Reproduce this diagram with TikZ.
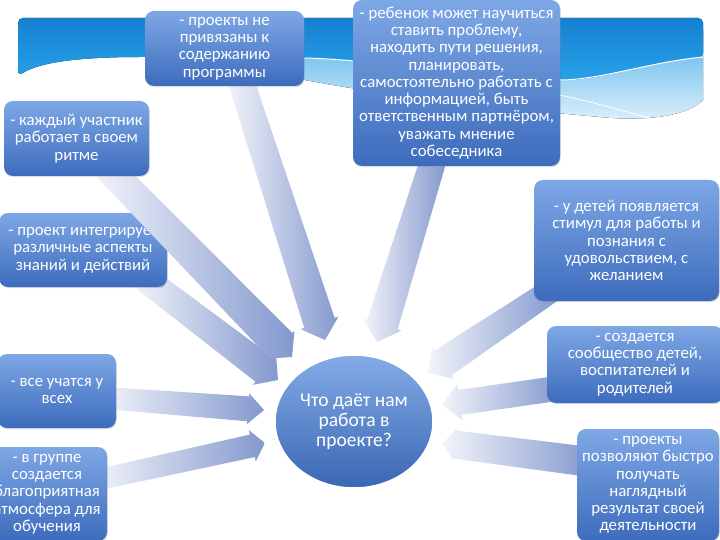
\documentclass[tikz,border=0pt]{standalone}
\usepackage{fontspec}
\setmainfont{Carlito}
\usetikzlibrary{shadows,shapes.geometric}
\definecolor{boxTop}{HTML}{7EA7E5}
\definecolor{boxBot}{HTML}{3D6CBD}
\definecolor{arrTail}{HTML}{F2F4FA}
\definecolor{arrHead}{HTML}{8398CE}
\definecolor{skyDark}{HTML}{1680D2}
\definecolor{skyDark2}{HTML}{27A2E8}
\definecolor{skyLight}{HTML}{58B3EB}
\definecolor{skyPale}{HTML}{DCF0FB}
\tikzset{
  box/.style={rounded corners=9pt, top color=boxTop, bottom color=boxBot, text=white,
    align=center, inner sep=0pt,
    drop shadow={opacity=0.25, shadow xshift=0.8pt, shadow yshift=-1.2pt}},
  arrowfill/.style={left color=arrTail, right color=arrHead},
  centre/.style={ellipse, top color=boxTop!95!white, bottom color=boxBot!95!black, draw=white,
    line width=1.5pt, text=white, align=center, inner sep=0pt,
    font=\fontsize{19.5}{20}\selectfont}
}
\lineskiplimit=-20pt
% block arrow: tail coord, tip coord, tail half width, base half width, head half width, head length
\newcommand\bArrow[6]{%
  \pgfpointdiff{\pgfpointanchor{#1}{center}}{\pgfpointanchor{#2}{center}}%
  \pgfgetlastxy{\bAx}{\bAy}%
  \pgfmathsetmacro\bAang{atan2(\bAy,\bAx)}%
  \pgfmathsetmacro\bAlen{veclen(\bAx,\bAy)}%
  \pgfmathsetmacro\bAbase{\bAlen-#6}%
  \begin{scope}[shift={(#1)}, rotate=\bAang, x=1pt, y=1pt]
    \shade[arrowfill] (0,#3) -- (\bAbase,#4) -- (\bAbase,#5) -- (\bAlen,0)
      -- (\bAbase,-#5) -- (\bAbase,-#4) -- (0,-#3) -- cycle;
  \end{scope}}
\begin{document}
\begin{tikzpicture}[x=1pt, y=-1pt, font=\fontsize{16.8}{17.3}\selectfont]
\useasboundingbox (0,0) rectangle (720,540);
\clip (0,0) rectangle (720,540);
\fill[white] (0,0) rectangle (720,540);
% sky banner
\fill[top color=skyLight, bottom color=skyPale] (200,50) -- (703,30) -- (703,100)
  .. controls (685,118) and (640,121) .. (600,117)
  .. controls (480,106) and (330,92) .. (200,56) -- cycle;
\fill[top color=skyDark, bottom color=skyDark2, rounded corners=5pt]
  (18,76) -- (18,18) -- (703,18) -- (703,57)
  .. controls (650,62) and (600,80) .. (560,80)
  .. controls (470,80) and (390,60) .. (304,58)
  .. controls (220,56) and (160,57) .. (145,57)
  .. controls (80,57) and (40,62) .. (18,76) -- cycle;
\draw[white, line width=1pt] (703,57) .. controls (650,62) and (600,80) .. (560,80)
  .. controls (470,80) and (390,60) .. (304,58)
  .. controls (220,56) and (160,57) .. (145,57);
\draw[white, line width=0.8pt] (560,95) .. controls (600,104) and (620,110) .. (650,118);

% arrow end points
\coordinate (t1) at (240,78);  \coordinate (h1) at (325,340);
\coordinate (t2) at (103,163); \coordinate (h2) at (292,357);
\coordinate (t3) at (434,158); \coordinate (h3) at (377,342);
\coordinate (t4) at (140,275); \coordinate (h4) at (278,380);
\coordinate (t5) at (105,398); \coordinate (h5) at (264,410);
\coordinate (t6) at (97,480);  \coordinate (h6) at (265,443);
\coordinate (t7) at (552,290); \coordinate (h7) at (428,373);
\coordinate (t8) at (560,388); \coordinate (h8) at (442,405);
\coordinate (t9) at (590,462); \coordinate (h9) at (443,443);

\bArrow{t1}{h1}{13}{16}{20}{18}
\bArrow{t3}{h3}{13}{16}{20}{18}
\bArrow{t4}{h4}{13}{15}{19}{17}
\bArrow{t5}{h5}{11}{12.5}{15.5}{16}
\bArrow{t6}{h6}{10.5}{11.5}{16}{13}
\bArrow{t7}{h7}{12}{15}{19}{18}
\bArrow{t8}{h8}{12.5}{12.5}{18}{18}
\bArrow{t9}{h9}{15}{14}{16}{12}

\node[centre, minimum width=158pt, minimum height=133pt] (c) at (354,421.5)
  {Что даёт нам\\работа в\\проекте?};

\node[box, minimum width=159pt, minimum height=75pt] (b1) at (224.5,48.5)
  {- проекты не\\привязаны к\\содержанию\\программы};
\node[box, minimum width=207pt, minimum height=166pt] (b3) at (456.5,83)
  {- ребенок может научиться\\ставить проблему,\\находить пути решения,\\планировать,\\самостоятельно работать с\\информацией, быть\\ответственным партнёром,\\уважать мнение\\собеседника};
\node[box, minimum width=185pt, minimum height=121pt] (b4) at (626.5,240.5)
  {- у детей появляется\\стимул для работы и\\познания с\\удовольствием, с\\желанием};
\node[box, minimum width=168pt, minimum height=74pt] (b5) at (83,250)
  {- проект интегрирует\\различные аспекты\\знаний и действий};
\node[box, minimum width=118pt, minimum height=74pt] (b6) at (57,391)
  {- все учатся у\\всех};
\node[box, minimum width=120pt, minimum height=94pt] (b7) at (47,494)
  {- в группе\\создается\\благоприятная\\атмосфера для\\обучения};
\node[box, minimum width=176pt, minimum height=77pt] (b8) at (635,364.5)
  {- создается\\сообщество детей,\\воспитателей и\\родителей};
\node[box, minimum width=142pt, minimum height=112pt] (b9) at (648,485)
  {- проекты\\позволяют быстро\\получать\\наглядный\\результат своей\\деятельности};

\bArrow{t2}{h2}{14}{17}{20}{17}
\node[box, minimum width=145pt, minimum height=75pt] (b2) at (76.5,138.5)
  {- каждый участник\\работает в своем\\ритме};
\end{tikzpicture}
\end{document}
